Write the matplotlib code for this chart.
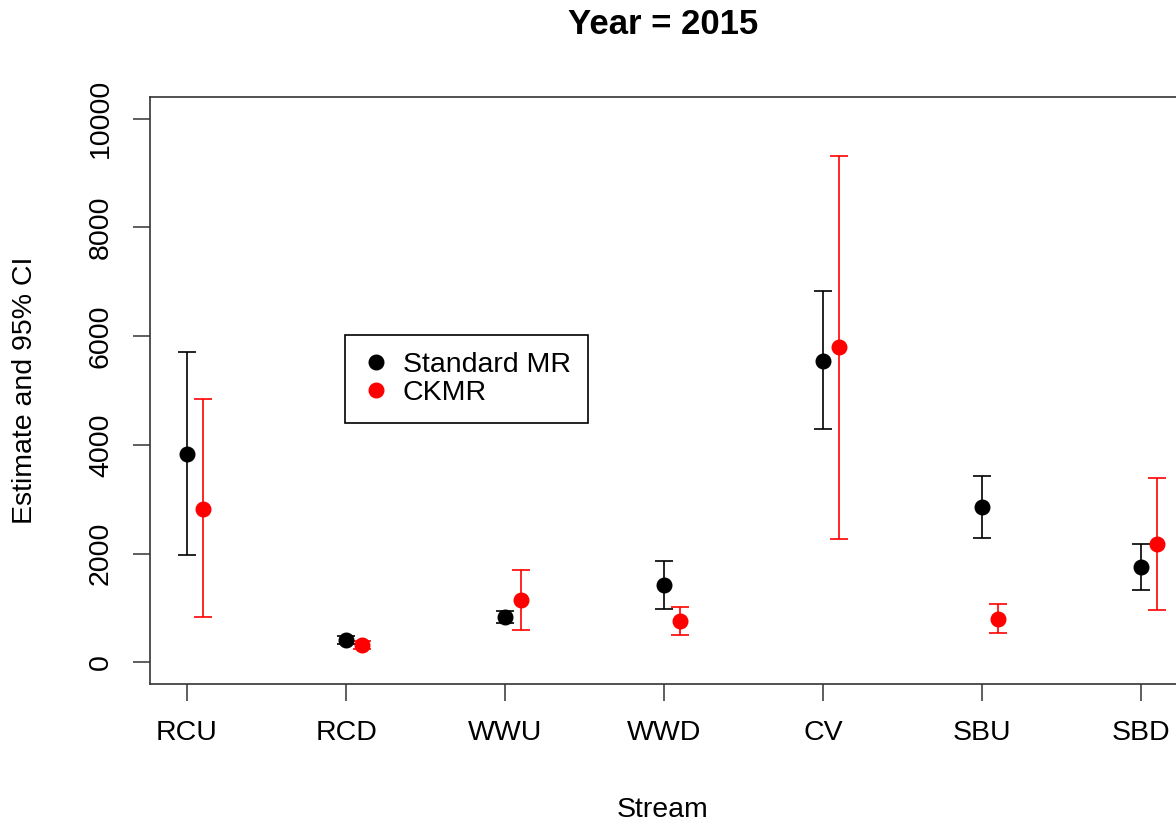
import matplotlib.pyplot as plt
import numpy as np

plt.rcParams["font.family"] = ["Liberation Sans", "DejaVu Sans"]

streams = ["RCU", "RCD", "WWU", "WWD", "CV", "SBU", "SBD"]

mr_est = [3840, 410, 835, 1415, 5550, 2865, 1750]
mr_lo = [1970, 340, 720, 975, 4285, 2290, 1325]
mr_hi = [5700, 480, 945, 1860, 6825, 3435, 2180]

ck_est = [2825, 315, 1140, 760, 5795, 805, 2180]
ck_lo = [835, 240, 590, 495, 2275, 540, 970]
ck_hi = [4835, 400, 1690, 1015, 9320, 1065, 3395]

x = np.arange(1, len(streams) + 1)
offset = 0.1

fig = plt.figure(figsize=(11.76, 8.27), dpi=100)
ax = fig.add_axes([150 / 1176, 1 - 684 / 827, 1046 / 1176, 587 / 827])

mr_est = np.array(mr_est)
ck_est = np.array(ck_est)
mr_err = [mr_est - np.array(mr_lo), np.array(mr_hi) - mr_est]
ck_err = [ck_est - np.array(ck_lo), np.array(ck_hi) - ck_est]

ax.errorbar(x, mr_est, yerr=mr_err, fmt="o", color="black", ms=10.5,
            elinewidth=1.2, capsize=6.3, capthick=1.2, zorder=3)
ax.errorbar(x + offset, ck_est, yerr=ck_err, fmt="o", color="red", ms=10.5,
            elinewidth=1.2, capsize=6.3, capthick=1.2, zorder=3)

ax.set_xlim(0.767, 7.344)
ax.set_ylim(-400, 10400)
ax.set_xticks(x)
ax.set_xticklabels(streams, fontsize=20.5)
ax.set_yticks(np.arange(0, 10001, 2000))
ax.set_yticklabels([str(v) for v in range(0, 10001, 2000)], fontsize=20.5,
                   rotation=90, va="center")
ax.tick_params(length=12, width=1.1, color="#333333", pad=14)
for s in ax.spines.values():
    s.set_linewidth(1.2)
    s.set_color("#333333")

fig.text(25 / 1176, 1 - 390 / 827, "Estimate and 95% CI", rotation=90,
         fontsize=20.5, ha="center", va="center")
fig.text(663 / 1176, 1 - 810 / 827, "Stream", fontsize=20.5,
         ha="center", va="center")
fig.text(663 / 1176, 1 - 25 / 827, "Year = 2015", fontsize=25,
         fontweight="bold", ha="center", va="center")

h1 = plt.Line2D([], [], marker="o", ls="", color="black", ms=10.5)
h2 = plt.Line2D([], [], marker="o", ls="", color="red", ms=10.5)
leg = ax.legend([h1, h2], ["Standard MR", "CKMR"], fontsize=20.5,
                loc="upper left", bbox_to_anchor=(345 / 1176, 1 - 335 / 827),
                bbox_transform=fig.transFigure, fancybox=False, framealpha=1,
                edgecolor="black", borderpad=0.6, labelspacing=0.07,
                handlelength=1.0, handletextpad=0.42, borderaxespad=0)
leg.get_frame().set_linewidth(1.2)

fig.savefig("out.png", dpi=100)
